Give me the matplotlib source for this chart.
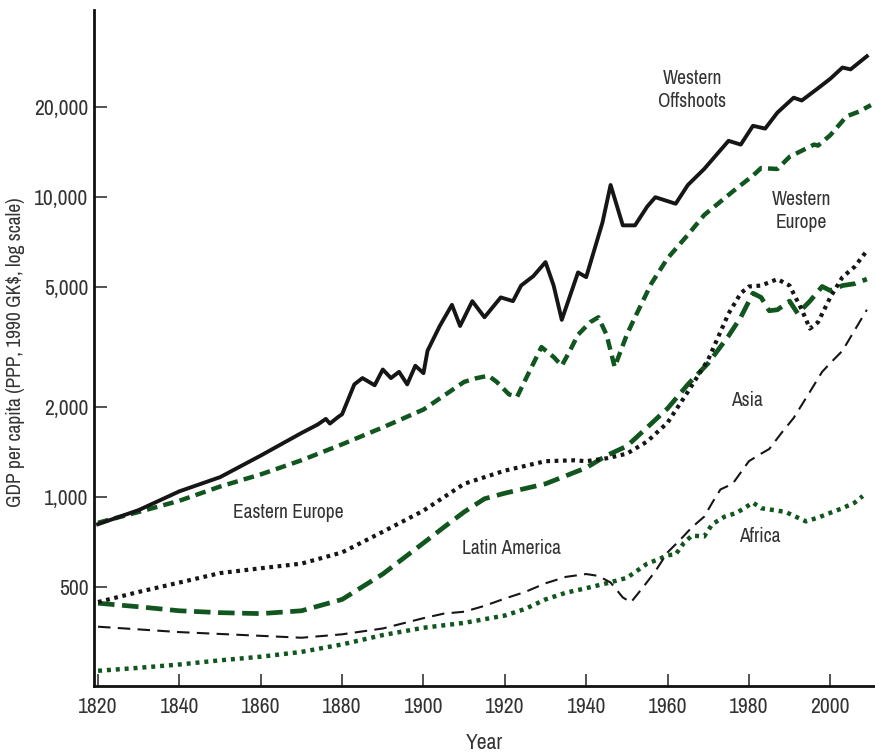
import matplotlib
matplotlib.use("Agg")
import matplotlib.pyplot as plt
import matplotlib.font_manager as fm
from matplotlib.ticker import FixedLocator, FuncFormatter, NullLocator

# 細い字体を探す（無ければ Roboto）
font_names = sorted({f.name for f in fm.fontManager.ttflist})
narrow = [n for n in font_names if 'Narrow' in n or 'Condensed' in n]
cond_stretch = [f for f in fm.fontManager.ttflist
                if f.stretch in ('condensed', 'semi-condensed', 'extra-condensed')]
if narrow:
    plt.rcParams['font.family'] = [narrow[0], 'DejaVu Sans']
    scale = 1.0
elif cond_stretch:
    plt.rcParams['font.family'] = [cond_stretch[0].name, 'DejaVu Sans']
    plt.rcParams['font.stretch'] = cond_stretch[0].stretch
    scale = 1.0
else:
    plt.rcParams['font.family'] = ['Roboto', 'DejaVu Sans']
    scale = 0.85

# --- data (GDP per capita, 1990 GK$) ---
wo_years = [1820, 1830, 1840, 1850, 1860, 1870, 1874, 1876, 1877, 1879, 1880, 1883,
            1885, 1888, 1890, 1892, 1894, 1896, 1898, 1900, 1901, 1904, 1907, 1909,
            1912, 1915, 1919, 1922, 1924, 1927, 1930, 1932, 1934, 1938, 1940, 1944,
            1946, 1949, 1952, 1955, 1957, 1962, 1965, 1969, 1973, 1975, 1978, 1981,
            1984, 1987, 1991, 1993, 1997, 2000, 2003, 2005, 2009]
wo_vals = [811, 904, 1044, 1164, 1374, 1634, 1744, 1821, 1757, 1847, 1888, 2374,
           2492, 2358, 2662, 2492, 2614, 2374, 2740, 2588, 3074, 3718, 4374, 3718,
           4500, 3976, 4632, 4500, 5072, 5453, 6075, 5072, 3898, 5612, 5412, 8230,
           10985, 8055, 8055, 9305, 10000, 9510, 10985, 12419, 14350, 15422, 14980, 17310,
           16940, 19150, 21480, 21020, 23100, 24840, 27080, 26700, 29530]

we_years = [1820, 1830, 1840, 1850, 1860, 1870, 1880, 1890, 1900, 1910, 1913, 1916,
            1918, 1921, 1923, 1926, 1929, 1932, 1934, 1936, 1938, 1941, 1943, 1945,
            1947, 1950, 1952, 1956, 1960, 1965, 1969, 1976, 1981, 1983, 1987, 1990,
            1996, 1997, 2000, 2004, 2007, 2010]
we_vals = [820, 891, 971, 1083, 1189, 1325, 1498, 1706, 1957, 2420, 2490, 2538,
           2420, 2200, 2156, 2614, 3162, 2930, 2740, 3074, 3478, 3830, 3976, 3478,
           2714, 3478, 3976, 5146, 6255, 7490, 8720, 10440, 11810, 12510, 12420, 13640,
           14980, 14870, 16100, 18610, 19290, 20290]

ee_years = [1820, 1830, 1840, 1850, 1860, 1870, 1880, 1890, 1900, 1910, 1920, 1930,
            1937, 1940, 1945, 1950, 1955, 1960, 1965, 1970, 1975, 1978, 1980, 1983,
            1987, 1990, 1993, 1995, 1997, 2000, 2003, 2006, 2009]
ee_vals = [446, 482, 518, 557, 578, 599, 653, 765, 900, 1106, 1224, 1316,
           1325, 1316, 1345, 1394, 1531, 1769, 2243, 2874, 4092, 4780, 5036, 5072,
           5330, 5072, 4212, 3644, 3830, 4632, 5412, 5861, 6624]

la_years = [1820, 1830, 1840, 1850, 1860, 1870, 1880, 1890, 1900, 1905, 1910, 1915,
            1920, 1930, 1940, 1945, 1950, 1955, 1960, 1965, 1970, 1975, 1978, 1981,
            1983, 1985, 1987, 1990, 1992, 1995, 1998, 2000, 2003, 2006, 2009]
la_vals = [442, 430, 417, 411, 408, 417, 455, 553, 702, 792, 891, 986,
           1029, 1106, 1251, 1374, 1477, 1706, 1973, 2374, 2794, 3446, 3976, 4780,
           4632, 4180, 4212, 4500, 4092, 4500, 5036, 4880, 5072, 5146, 5330]

asia_years = [1820, 1840, 1860, 1870, 1880, 1890, 1900, 1905, 1910, 1915, 1920, 1925,
              1930, 1935, 1940, 1943, 1946, 1949, 1951, 1954, 1957, 1960, 1963, 1966,
              1969, 1971, 1973, 1976, 1980, 1983, 1985, 1988, 1991, 1995, 1998, 2000,
              2003, 2006, 2009]
asia_vals = [369, 354, 344, 339, 348, 364, 394, 408, 414, 433, 458, 482,
             515, 541, 553, 545, 518, 462, 445, 500, 565, 653, 717, 792,
             859, 957, 1059, 1106, 1316, 1394, 1445, 1634, 1834, 2243, 2614, 2794,
             3074, 3600, 4212]

af_years = [1820, 1830, 1840, 1850, 1860, 1870, 1880, 1890, 1900, 1910, 1920, 1925,
            1930, 1935, 1940, 1945, 1950, 1955, 1958, 1960, 1962, 1964, 1966, 1969,
            1971, 1974, 1977, 1981, 1983, 1986, 1989, 1992, 1994, 1997, 2000, 2003,
            2006, 2008]
af_vals = [263, 269, 276, 285, 293, 304, 322, 346, 366, 380, 402, 423,
           455, 479, 496, 515, 537, 599, 621, 639, 643, 702, 743, 738,
           811, 859, 885, 957, 917, 904, 891, 853, 829, 853, 885, 917,
           957, 1007]

y_ticks = [500, 1000, 2000, 5000, 10000, 20000]
x_ticks = [1820, 1840, 1860, 1880, 1900, 1920, 1940, 1960, 1980, 2000]

black = '#161616'
green = '#12561f'
txt = '#333333'
fs = 15.5 * scale
lab_fs = 14 * scale

fig = plt.figure(figsize=(8.75, 7.53), dpi=100)
ax = fig.add_axes([0.1074, 0.089, 0.8926, 0.898])

ax.plot(af_years, af_vals, color=green, lw=3.2, dashes=(0.9, 1.1), dash_capstyle='butt')
ax.plot(asia_years, asia_vals, color=black, lw=1.5, dashes=(6, 3.5))
ax.plot(la_years, la_vals, color=green, lw=3.4, dashes=(3.5, 1.6))
ax.plot(ee_years, ee_vals, color=black, lw=3.0, dashes=(0.9, 1.1), dash_capstyle='butt')
ax.plot(we_years, we_vals, color=green, lw=3.2, dashes=(2.4, 1.4))
ax.plot(wo_years, wo_vals, color=black, lw=2.8, solid_joinstyle='round')

ax.set_yscale('log')
ax.set_xlim(1819, 2011)
ax.set_ylim(234, 42200)

ax.yaxis.set_major_locator(FixedLocator(y_ticks))
ax.yaxis.set_minor_locator(NullLocator())
ax.yaxis.set_major_formatter(FuncFormatter(lambda v, p: f'{int(v):,}'))
ax.set_xticks(x_ticks)

for s in ['top', 'right']:
    ax.spines[s].set_visible(False)
for s in ['left', 'bottom']:
    ax.spines[s].set_linewidth(2.0)
    ax.spines[s].set_color('#111111')

ax.tick_params(axis='both', direction='in', length=9, width=1.3, color='#444444',
               labelsize=fs, labelcolor=txt)
ax.tick_params(axis='y', pad=4)
ax.tick_params(axis='x', pad=8)

ax.set_ylabel('GDP per capita (PPP, 1990 GK$, log scale)', fontsize=14 * scale,
              fontweight='bold', color=txt)
ax.yaxis.set_label_coords(-0.088, 0.494)
ax.set_xlabel('Year', fontsize=fs, fontweight='bold', color=txt)
ax.xaxis.set_label_coords(0.5, -0.0695)

# region labels
fig.text(692 / 875, 1 - 90 / 753, 'Western\nOffshoots', ha='center', va='center',
         fontsize=lab_fs, color=txt, linespacing=1.25)
fig.text(801 / 875, 1 - 211 / 753, 'Western\nEurope', ha='center', va='center',
         fontsize=lab_fs, color=txt, linespacing=1.25)
fig.text(288 / 875, 1 - 512 / 753, 'Eastern Europe', ha='center', va='center',
         fontsize=lab_fs, color=txt)
fig.text(512 / 875, 1 - 549 / 753, 'Latin America', ha='center', va='center',
         fontsize=lab_fs, color=txt)
fig.text(747 / 875, 1 - 400 / 753, 'Asia', ha='center', va='center',
         fontsize=lab_fs, color=txt)
fig.text(760 / 875, 1 - 537 / 753, 'Africa', ha='center', va='center',
         fontsize=lab_fs, color=txt)

fig.savefig('out.png', dpi=100)
